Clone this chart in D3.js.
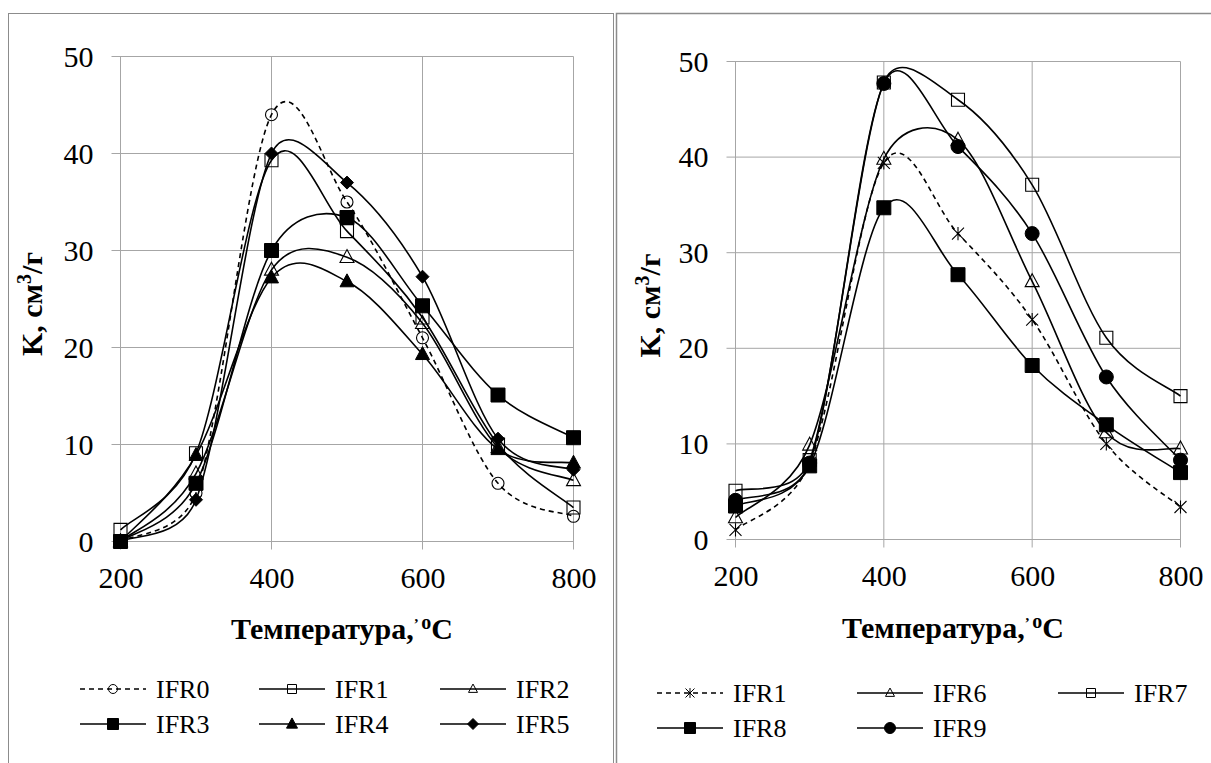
<!DOCTYPE html>
<html>
<head>
<meta charset="utf-8">
<script src="https://cdn.jsdelivr.net/npm/d3@7"></script>
<style>
  body { margin: 0; background: #fff; }
</style>
</head>
<body>
<svg id="chart" width="1211" height="763"></svg>
<script>
// temperatures (x categories), shared by both charts
const temps = [200, 300, 400, 500, 600, 700, 800];
const xTicks = [200, 400, 600, 800];
const yTicks = [0, 10, 20, 30, 40, 50];

// left chart series, K (cm3/g)
const leftNames = ["IFR0", "IFR1", "IFR2", "IFR3", "IFR4", "IFR5"];
const ifr0 = [0, 5, 44, 35, 21, 6, 2.6];
const ifr1 = [1.2, 9.1, 39.3, 32, 23.1, 10, 3.5];
const ifr2 = [0, 7, 28, 29.3, 22.5, 9.7, 6.3];
const ifr3 = [0, 6, 30, 33.4, 24.3, 15.1, 10.7];
const ifr4 = [0, 8.9, 27.2, 26.8, 19.3, 9.5, 8.1];
const ifr5 = [0, 4.3, 40, 37, 27.3, 10.6, 7.4];

// right chart series
const rightNames = ["IFR1", "IFR6", "IFR7", "IFR8", "IFR9"];
const r_ifr1 = [1, 8, 39.4, 32, 23, 10, 3.4];
const r_ifr6 = [2.3, 9.9, 39.8, 41.8, 27, 11.2, 9.5];
const r_ifr7 = [5.1, 8.3, 47.8, 46, 37.1, 21.1, 15];
const r_ifr8 = [3.5, 7.7, 34.7, 27.7, 18.2, 12, 7];
const r_ifr9 = [4.1, 8, 47.7, 41.1, 32, 17, 8.3];

const xLabel = "Температура,";
const yLabel = "K, см";

const FONT = "Liberation Serif";

// marker paths, centred on 0,0
function markerPath(type, s) {
  const h = s / 2;
  switch (type) {
    case "circle": return d3.arc()({innerRadius: 0, outerRadius: h, startAngle: 0, endAngle: 2 * Math.PI});
    case "square": return `M${-h},${-h}H${h}V${h}H${-h}Z`;
    case "triangle": return `M0,${-h * 1.1}L${h},${h * 0.75}L${-h},${h * 0.75}Z`;
    case "diamond": return `M0,${-h}L${h},0L0,${h}L${-h},0Z`;
    case "star": return `M${-h},${-h}L${h},${h}M${-h},${h}L${h},${-h}M0,${-h * 1.1}V${h * 1.1}`;
  }
}

// spreadsheet-style smoothed line: bezier with tangents capped by chord length
function smoothPath(pts) {
  const p = d3.path();
  const dist = (a, b) => Math.hypot(b[0] - a[0], b[1] - a[1]);
  p.moveTo(pts[0][0], pts[0][1]);
  for (let i = 0; i < pts.length - 1; i++) {
    const p0 = pts[Math.max(i - 1, 0)], p1 = pts[i], p2 = pts[i + 1], p3 = pts[Math.min(i + 2, pts.length - 1)];
    const d12 = dist(p1, p2), d02 = dist(p0, p2), d13 = dist(p1, p3);
    const f0 = d02 / 6 < d12 / 2 ? 1 / 6 : d12 / (2 * d02);
    const f1 = d13 / 6 < d12 / 2 ? 1 / 6 : d12 / (2 * d13);
    p.bezierCurveTo(
      p1[0] + f0 * (p2[0] - p0[0]), p1[1] + f0 * (p2[1] - p0[1]),
      p2[0] - f1 * (p3[0] - p1[0]), p2[1] - f1 * (p3[1] - p1[1]),
      p2[0], p2[1]);
  }
  return p.toString();
}

const svg = d3.select("#chart");
svg.append("rect").attr("width", 1211).attr("height", 763).attr("fill", "#fff");

// panel borders
svg.append("rect").attr("x", 8.5).attr("y", 13.5).attr("width", 605).attr("height", 800)
  .attr("fill", "none").attr("stroke", "#8c8c8c");
svg.append("rect").attr("x", 616.5).attr("y", 13.5).attr("width", 700).attr("height", 800)
  .attr("fill", "none").attr("stroke", "#8c8c8c").attr("stroke-width", 1.5);

function drawChart(cfg) {
  const g = svg.append("g");
  const x = d3.scaleLinear([200, 800], cfg.xRange);
  const y = d3.scaleLinear([0, 50], cfg.yRange);
  const [x0, x1] = cfg.xRange;
  const [y0, y1] = cfg.yRange;

  // gridlines + outer tick marks
  g.append("g").selectAll("line").data(yTicks).join("line")
    .attr("x1", x0 - 9).attr("x2", x1).attr("y1", d => y(d)).attr("y2", d => y(d))
    .attr("stroke", "#a6a6a6");
  g.append("g").selectAll("line").data(xTicks).join("line")
    .attr("x1", d => x(d)).attr("x2", d => x(d)).attr("y1", y1).attr("y2", y0 + 8)
    .attr("stroke", "#a6a6a6");

  // tick labels
  g.append("g")
    .attr("transform", `translate(${x0},0)`)
    .call(d3.axisLeft(y).tickValues(yTicks).tickSize(0).tickPadding(27))
    .call(a => a.select(".domain").remove())
    .call(a => a.selectAll("text").attr("font-family", FONT).attr("font-size", 30).attr("fill", "#000"));
  g.append("g")
    .attr("transform", `translate(0,${y0})`)
    .call(d3.axisBottom(x).tickValues(xTicks).tickSize(0).tickPadding(25))
    .call(a => a.select(".domain").remove())
    .call(a => a.selectAll("text").attr("font-family", FONT).attr("font-size", 30).attr("fill", "#000"));

  // axis titles
  const t = g.append("text").attr("x", (x0 + x1) / 2 - 5).attr("y", cfg.titleY)
    .attr("font-family", FONT)
    .attr("text-anchor", "middle").attr("font-weight", "bold").attr("font-size", 30);
  t.append("tspan").text(xLabel);
  t.append("tspan").attr("font-size", 15).attr("dy", -10).text("’ ");
  t.append("tspan").attr("font-size", 20).text("o");
  t.append("tspan").attr("dy", 10).text("C");

  const yl = g.append("text")
    .attr("transform", `translate(${cfg.yLabelX},${(y0 + y1) / 2 + 5}) rotate(-90)`)
    .attr("font-family", FONT)
    .attr("text-anchor", "middle").attr("font-weight", "bold").attr("font-size", 30);
  yl.append("tspan").text(yLabel);
  yl.append("tspan").attr("font-size", 20).attr("dy", -11).text("3");
  yl.append("tspan").attr("dy", 11).text("/г");

  cfg.series.forEach(s => {
    const sg = g.append("g");
    const pts = s.values.map((d, i) => [x(temps[i]), y(d)]);
    sg.append("path").attr("d", smoothPath(pts)).attr("fill", "none")
      .attr("stroke", "#000").attr("stroke-width", 1.6)
      .attr("stroke-dasharray", s.dashed ? "5,4" : null);
    sg.selectAll("path.m").data(s.values).join("path").attr("class", "m")
      .attr("transform", (d, i) => `translate(${x(temps[i])},${y(d)})`)
      .attr("d", markerPath(s.marker, s.size))
      .attr("fill", s.filled ? "#000" : "none")
      .attr("stroke", "#000").attr("stroke-width", s.filled ? 1 : 1.1);
  });

  // legend
  cfg.series.forEach((s, i) => {
    const lx = cfg.legendX[i % 3], ly = cfg.legendY[Math.floor(i / 3)];
    const lg = g.append("g").attr("transform", `translate(${lx},${ly})`);
    lg.append("line").attr("x1", 0).attr("x2", 66).attr("stroke", "#000").attr("stroke-width", 1.6)
      .attr("stroke-dasharray", s.dashed ? "5,4" : null);
    lg.append("path").attr("transform", "translate(33,0)")
      .attr("d", markerPath(s.marker, s.filled ? 11 : 9))
      .attr("fill", s.filled ? "#000" : "none").attr("stroke", "#000").attr("stroke-width", 1);
    lg.append("text").attr("x", 76).attr("y", 9).attr("font-family", FONT)
      .attr("font-size", 26).text(s.name);
  });
}

drawChart({
  xRange: [120.5, 573.5], yRange: [541.5, 56.5], titleY: 639, yLabelX: 42,
  legendX: [80, 259, 440], legendY: [689, 724],
  series: [
    {name: leftNames[0], values: ifr0, marker: "circle", size: 12, filled: false, dashed: true},
    {name: leftNames[1], values: ifr1, marker: "square", size: 13, filled: false},
    {name: leftNames[2], values: ifr2, marker: "triangle", size: 14, filled: false},
    {name: leftNames[3], values: ifr3, marker: "square", size: 14, filled: true},
    {name: leftNames[4], values: ifr4, marker: "triangle", size: 14, filled: true},
    {name: leftNames[5], values: ifr5, marker: "diamond", size: 13, filled: true}
  ]
});

drawChart({
  xRange: [735.5, 1180.5], yRange: [539.5, 61.5], titleY: 638, yLabelX: 660,
  legendX: [657, 857, 1058], legendY: [693, 728],
  series: [
    {name: rightNames[0], values: r_ifr1, marker: "star", size: 12, filled: false, dashed: true},
    {name: rightNames[1], values: r_ifr6, marker: "triangle", size: 14, filled: false},
    {name: rightNames[2], values: r_ifr7, marker: "square", size: 13, filled: false},
    {name: rightNames[3], values: r_ifr8, marker: "square", size: 14, filled: true},
    {name: rightNames[4], values: r_ifr9, marker: "circle", size: 14, filled: true}
  ]
});
</script>
</body>
</html>
